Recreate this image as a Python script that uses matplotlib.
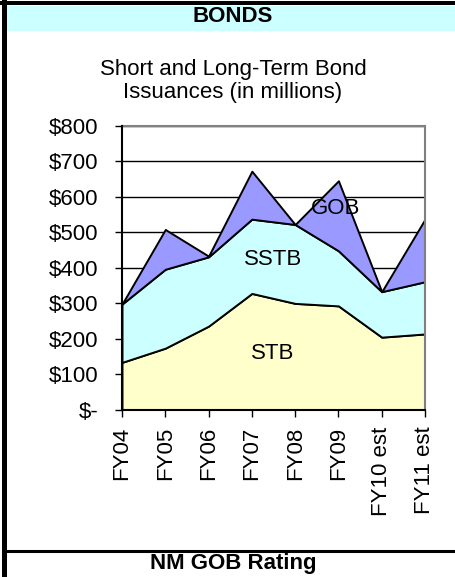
import matplotlib
matplotlib.use("Agg")
import matplotlib.pyplot as plt
from matplotlib.patches import Rectangle
from matplotlib.lines import Line2D

plt.rcParams['font.family'] = ['Liberation Sans', 'DejaVu Sans']

categories = ["FY04", "FY05", "FY06", "FY07", "FY08", "FY09", "FY10 est", "FY11 est"]
stb = [134, 174, 236, 328, 300, 293, 205, 214]
sstb = [164, 222, 195, 209, 222, 155, 128, 147]
gob = [0, 112, 2, 135, 0, 197, 0, 176]
yticks = [0, 100, 200, 300, 400, 500, 600, 700, 800]
ytick_labels = ["$-", "$100", "$200", "$300", "$400", "$500", "$600", "$700", "$800"]

FS = 16

W, H = 455, 577
fig = plt.figure(figsize=(W / 100, H / 100), dpi=100)

def fx(px):
    return px / W

def fy(py):
    return 1 - py / H

# header band
fig.patches.append(Rectangle((fx(7), fy(31)), fx(455) - fx(7), fy(6) - fy(31),
                             transform=fig.transFigure, facecolor='#CCFFFF', edgecolor='none', zorder=0))
# top border
fig.patches.append(Rectangle((0, fy(5)), 1, fy(1) - fy(5), transform=fig.transFigure,
                             facecolor='black', edgecolor='none', zorder=1))
# left border
fig.patches.append(Rectangle((fx(2), 0), fx(5), 1, transform=fig.transFigure,
                             facecolor='black', edgecolor='none', zorder=1))
# bottom separator line
fig.lines.append(Line2D([fx(5), 1], [fy(551), fy(551)], transform=fig.transFigure,
                        color='black', linewidth=2.2))

fig.text(fx(233), fy(17), "BONDS", ha='center', va='center', fontsize=FS, fontweight='bold')
fig.text(fx(233), fy(81), "Short and Long-Term Bond\nIssuances (in millions)", ha='center',
         va='center', fontsize=FS, linespacing=1.15)
fig.text(fx(233), fy(563), "NM GOB Rating", ha='center', va='center', fontsize=FS, fontweight='bold')

ax = fig.add_axes([fx(122), fy(410), fx(425) - fx(122), fy(125.7) - fy(410)])
x = list(range(len(categories)))
ax.stackplot(x, stb, sstb, gob, colors=['#FFFFCC', '#CCFFFF', '#9999FF'],
             edgecolor='black', linewidth=1.4, zorder=2)
ax.set_xlim(0, len(categories) - 1)
ax.set_ylim(0, 800)
ax.set_yticks(yticks)
ax.set_yticklabels(ytick_labels, fontsize=FS)
ax.set_xticks(x)
ax.set_xticklabels(categories, rotation=90, fontsize=FS, va='top', ha='center')
ax.tick_params(axis='y', direction='out', length=5, width=1, pad=12)
ax.tick_params(axis='x', direction='out', length=5, width=1, pad=7)
ax.grid(axis='y', color='black', linewidth=1)
ax.set_axisbelow(True)
for s in ['top', 'right']:
    ax.spines[s].set_color('#808080')
    ax.spines[s].set_linewidth(1.5)
for s in ['left', 'bottom']:
    ax.spines[s].set_color('black')
    ax.spines[s].set_linewidth(1.5)
    ax.spines[s].set_zorder(5)

ax.text(4.93, 568, "GOB", ha='center', va='center', fontsize=FS, zorder=6)
ax.text(3.49, 423, "SSTB", ha='center', va='center', fontsize=FS, zorder=6)
ax.text(3.49, 158, "STB", ha='center', va='center', fontsize=FS, zorder=6)

fig.savefig("out.png", dpi=100)
